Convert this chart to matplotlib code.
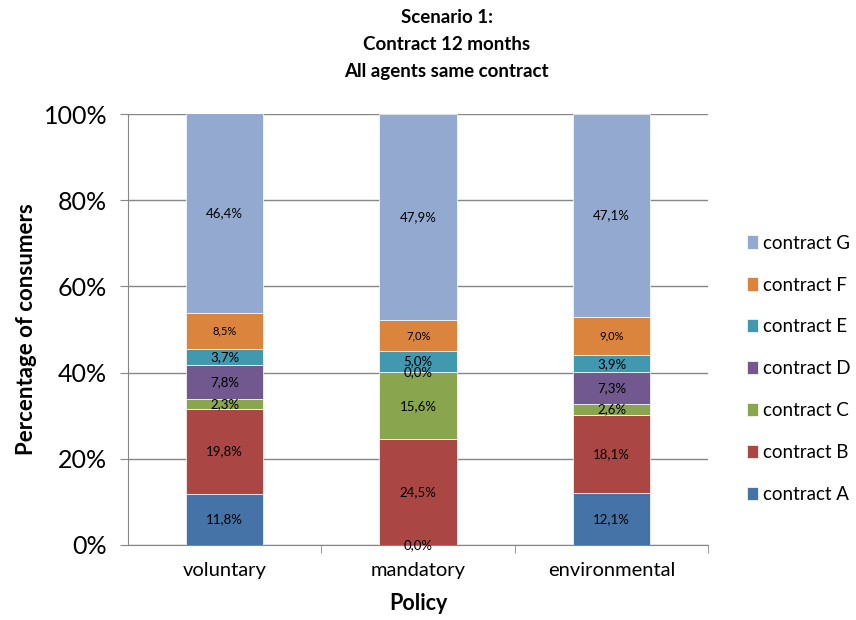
import numpy as np
import matplotlib
matplotlib.use("Agg")
from matplotlib import pyplot as plt

plt.rcParams['font.family'] = ['Lato', 'DejaVu Sans']

### data
policies = ['voluntary', 'mandatory', 'environmental']
contracts = ['contract A', 'contract B', 'contract C', 'contract D',
             'contract E', 'contract F', 'contract G']
contract_a = [11.8, 0.0, 12.1]
contract_b = [19.8, 24.5, 18.1]
contract_c = [2.3, 15.6, 2.6]
contract_d = [7.8, 0.0, 7.3]
contract_e = [3.7, 5.0, 3.9]
contract_f = [8.5, 7.0, 9.0]
contract_g = [46.4, 47.9, 47.1]
series = [contract_a, contract_b, contract_c, contract_d,
          contract_e, contract_f, contract_g]
colors = ['#4572A7', '#AA4643', '#89A54E', '#71588F',
          '#4198AF', '#DB843D', '#93A9CF']

fig = plt.figure(figsize=(8.56, 6.2), dpi=100)
ax = fig.add_axes([0.1495, 0.121, 0.678, 0.695])

x = np.arange(len(policies))
bottom = np.zeros(len(policies))
handles = []
for i, (vals, col, name) in enumerate(zip(series, colors, contracts)):
    vals = np.array(vals)
    b = ax.bar(x, vals, 0.4, bottom=bottom, color=col, edgecolor='white',
               linewidth=0.5, label=name, zorder=3)
    handles.append(b)
    for xi, v, b0 in zip(x, vals, bottom):
        fs = 8 if name == 'contract F' else 9.5
        ax.text(xi, b0 + v / 2, f"{v:.1f}%".replace('.', ','), ha='center',
                va='center', fontsize=fs, color='black', zorder=4)
    bottom += vals

ax.set_xlim(-0.5, 2.5)
ax.set_ylim(0, 100)
ax.set_yticks(np.arange(0, 101, 20))
ax.set_yticklabels([f"{t}%" for t in range(0, 101, 20)], fontsize=18)
ax.set_xticks(x)
ax.set_xticklabels(policies, fontsize=14.5)
ax.set_xticks([0.5, 1.5, 2.5], minor=True)
ax.tick_params(axis='x', which='major', length=0, pad=12)
ax.tick_params(axis='x', which='minor', length=6, color='#868686')
ax.tick_params(axis='y', length=6, color='#868686', pad=9)
ax.yaxis.grid(True, color='#868686', linewidth=1, zorder=0)
for s in ['top', 'right']:
    ax.spines[s].set_visible(False)
for s in ['left', 'bottom']:
    ax.spines[s].set_color('#868686')

ax.set_xlabel('Policy', fontsize=15.5, fontweight='bold', labelpad=10)
ax.set_ylabel('Percentage of consumers', fontsize=16, fontweight='bold',
              labelpad=5)
fig.text(0.522, 0.985, 'Scenario 1:\nContract 12 months\nAll agents same contract',
         ha='center', va='top', fontsize=13.5, fontweight='bold', linespacing=1.7)

fig.legend(handles[::-1], contracts[::-1], loc='center left',
           bbox_to_anchor=(0.873, 0.405), frameon=False, fontsize=13.5,
           borderpad=0, borderaxespad=0,
           handlelength=0.55, handleheight=0.7, handletextpad=0.3,
           labelspacing=1.33)

fig.savefig('out.png', dpi=100)
